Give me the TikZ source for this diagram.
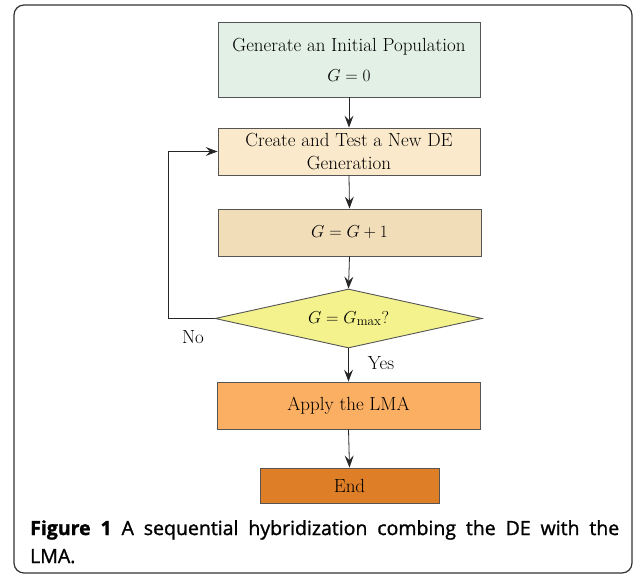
\documentclass[tikz,border=0pt]{standalone}
\usepackage{fontspec}
\newfontfamily\capfont[FakeBold=1.3]{Open Sans}
\usetikzlibrary{arrows.meta,shapes.geometric}
\definecolor{cA}{HTML}{E2F0E6}
\definecolor{cB}{HTML}{FBE9CC}
\definecolor{cC}{HTML}{F2DDB9}
\definecolor{cD}{HTML}{F4F28C}
\definecolor{cE}{HTML}{FBAF63}
\definecolor{cF}{HTML}{DE7E27}
\definecolor{edge}{HTML}{555555}
\begin{document}
\begin{tikzpicture}[x=1pt,y=-1pt,
  every node/.style={font=\fontsize{19}{23}\selectfont},
  boxst/.style={draw=edge,line width=0.9pt,inner sep=0pt,align=center},
  arr/.style={-{Stealth[length=12pt,width=9pt,inset=4.5pt]},line width=0.8pt,black!85}]
\useasboundingbox (0,0) rectangle (635,577);
\draw[line width=1.2pt,black!80,rounded corners=10pt] (14,5) rectangle (632,573);
\node[boxst,fill=cA,minimum width=262pt,minimum height=75pt] (b1) at (349,59.5) {Generate an Initial Population\\[7pt] $G=0$};
\node[boxst,fill=cB,minimum width=262pt,minimum height=47pt] (b2) at (349,151.5) {Create and Test a New DE\\ Generation};
\node[boxst,fill=cC,minimum width=263pt,minimum height=47pt] (b3) at (349.5,232.5) {$G=G+1$};
\node[diamond,aspect=4.5,draw=edge,line width=0.9pt,fill=cD,inner sep=0pt,minimum width=267pt,minimum height=59pt] (d) at (348.5,318.5) {$G=G_{\max}?$};
\node[boxst,fill=cE,minimum width=263pt,minimum height=47pt] (b4) at (348.5,405.5) {Apply the LMA};
\node[boxst,fill=cF,minimum width=179pt,minimum height=35pt] (b5) at (349.5,485.5) {End};
\draw[arr] (b1.south) -- (b2.north);
\draw[arr] (b2.south) -- (b3.north);
\draw[arr] (b3.south) -- (d.north);
\draw[arr] (d.south) -- (b4.north);
\draw[arr] (b4.south) -- (b5.north);
\draw[arr] (d.west) -- ++(-46,0) |- (b2.west);
\node (no) at (193,337) {No};
\node (yes) at (381,363) {Yes};
\node[anchor=north west,inner sep=0pt,align=justify,text width=589pt,font=\capfont\fontsize{19.5}{28}\selectfont] (cap) at (30,520) {\textbf{Figure 1} A sequential hybridization combing the DE with the\linebreak LMA.};
\end{tikzpicture}
\end{document}
